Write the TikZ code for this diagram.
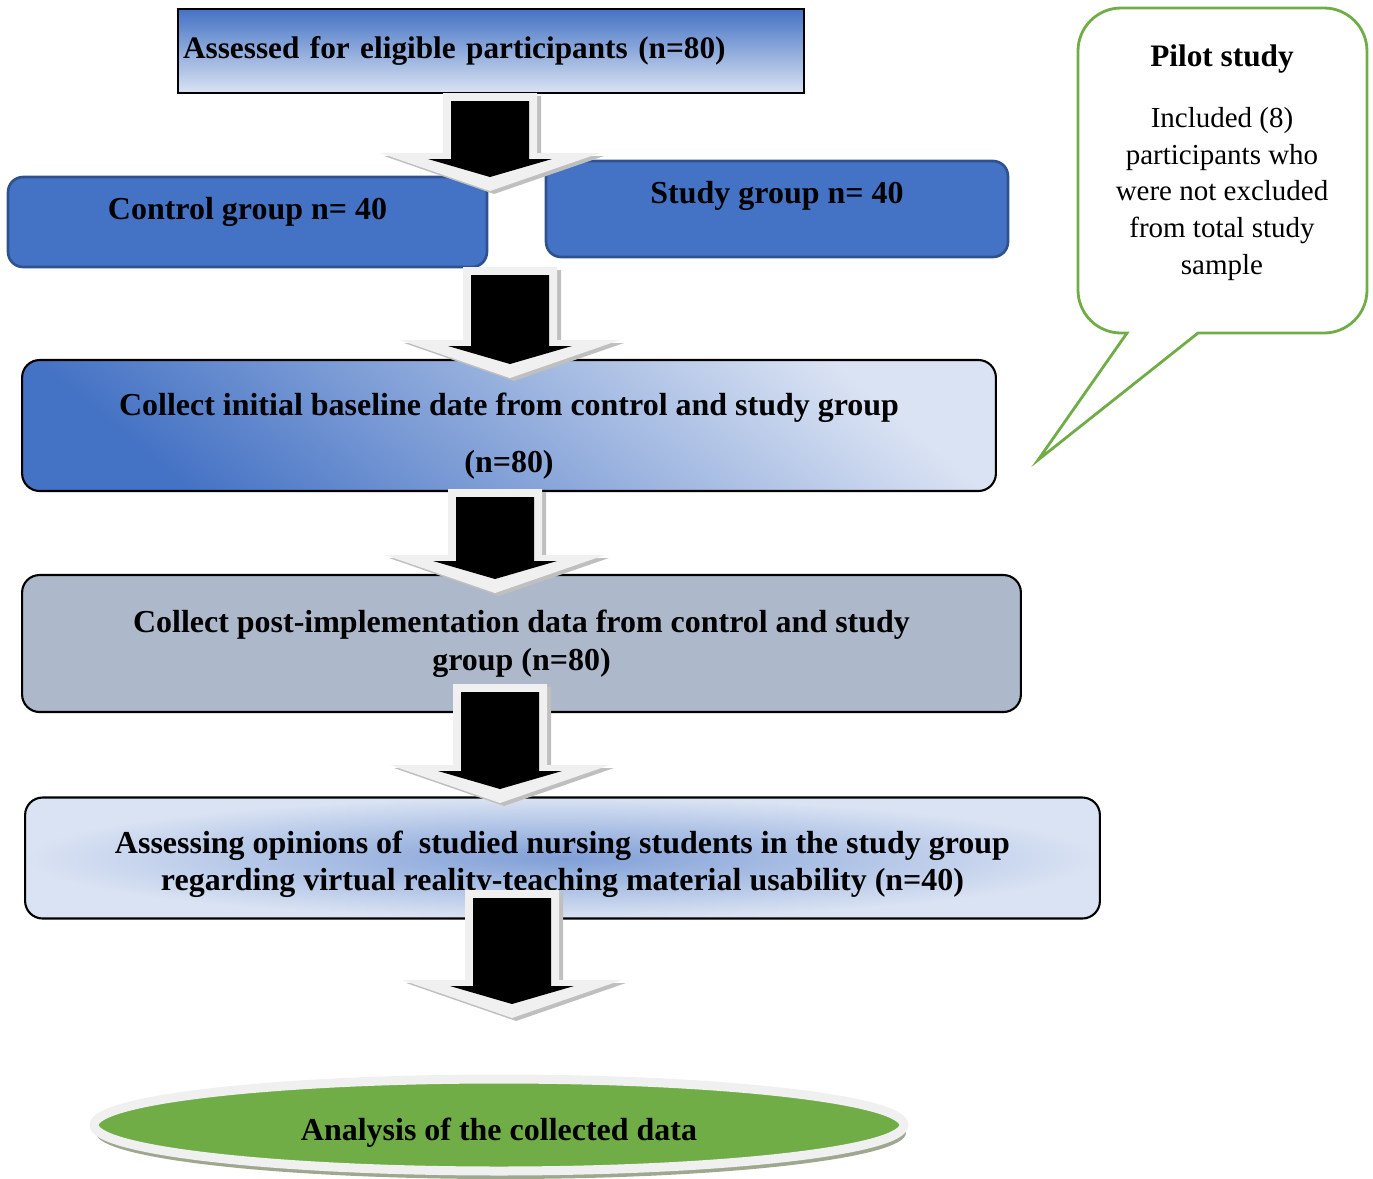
\documentclass[tikz,border=0pt]{standalone}
\usepackage{fontspec}
\setmainfont{Liberation Serif}
\usetikzlibrary{shapes.geometric, shadows}
\definecolor{wordblue}{HTML}{4472C4}
\definecolor{wordedge}{HTML}{2F528F}
\definecolor{paleblue}{HTML}{DAE3F3}
\definecolor{slate}{HTML}{ADB9CA}
\definecolor{leaf}{HTML}{70AD47}
\definecolor{rimgray}{HTML}{F0F0F0}
\definecolor{shadegray}{HTML}{BFBFBF}
\definecolor{mossshade}{HTML}{9DA88F}

\begin{document}
\begin{tikzpicture}[x=0.02cm, y=-0.02cm, font=\fontsize{18.2}{21.5}\selectfont\bfseries]
    \tikzstyle{headbox} = [rectangle, draw, line width=1.2pt,
        top color=wordblue, bottom color=paleblue,
        inner xsep=0.1cm, align=left,
        font=\fontsize{17.8}{21.5}\selectfont\bfseries]
    \tikzstyle{groupbox} = [rectangle, draw=wordedge, line width=1.5pt,
        fill=wordblue, rounded corners=0.3cm, text height=13pt]
    \tikzstyle{stage} = [rectangle, draw, line width=1.2pt,
        rounded corners=0.35cm, align=center]
    \tikzstyle{callout} = [draw=leaf, line width=1.6pt]

    \useasboundingbox (0,0) rectangle (1373,1178);

    \node [headbox, minimum width=12.52cm, minimum height=1.68cm,
        text width=12.32cm] (assess) at (491,51)
        {Assessed for eligible participants (n=80)};

    \node [groupbox, minimum width=9.58cm, minimum height=1.8cm,
        text depth=15.4pt] (control) at (247.5,222) {Control group n= 40};
    \node [groupbox, minimum width=9.24cm, minimum height=1.92cm,
        text depth=18.8pt] (study) at (777,209) {Study group n= 40};

    \node [stage, top color=paleblue, bottom color=wordblue, shading angle=-40,
        minimum width=19.48cm, minimum height=2.62cm] (baseline) at (509,425.5)
        {\rule{0pt}{25pt}Collect initial baseline date from control and study group\\[10.8pt](n=80)};

    \node [stage, fill=slate, minimum width=19.98cm, minimum height=2.74cm]
        (post) at (521.5,643.5)
        {Collect post-implementation data from control and study\\group (n=80)};

    \node [stage, inner color=wordblue!60!paleblue, outer color=paleblue,
        minimum width=21.5cm, minimum height=2.42cm] (opinion) at (562.5,858)
        {\rule{0pt}{20pt}Assessing opinions of~ studied nursing students in the study group\\
         regarding virtual reality-teaching material usability (n=40)};

    \node [ellipse, fill=leaf, draw=rimgray, line width=0.18cm,
        minimum width=16.2cm, minimum height=1.84cm, text height=22pt,
        drop shadow={shadow xshift=0.04cm, shadow yshift=-0.16cm,
            fill=mossshade, opacity=1}] (analysis) at (499,1125)
        {Analysis of the collected data};

    % pilot study callout
    \draw [callout] (1038,460) -- (1198,333) [rounded corners=0.86cm]
        -- (1367,333) -- (1367,8) -- (1078,8) -- (1078,333)
        [sharp corners] -- (1127,333) -- cycle;
    \node [font=\fontsize{17.8}{21.5}\selectfont\bfseries] (pilot) at (1222,59) {Pilot study};
    \node [font=\fontsize{16.5}{21}\selectfont\mdseries, align=center]
        (pilotnote) at (1222,194)
        {Included (8)\\participants who\\were not excluded\\from total study\\sample};

    % block arrows between the stages
    \foreach \cx/\yt/\yw in {490/101/153, 510/275/340, 495/497/555,
                             500/692/765, 512/898/980} {
        \fill [shadegray, shift={(4,3)}] (\cx-47,\yt-8) -- (\cx+47,\yt-8)
            -- (\cx+47,\yw) -- (\cx+110,\yw) -- (\cx,\yw+38)
            -- (\cx-110,\yw) -- (\cx-47,\yw) -- cycle;
        \fill [rimgray] (\cx-47,\yt-8) -- (\cx+47,\yt-8)
            -- (\cx+47,\yw) -- (\cx+110,\yw) -- (\cx,\yw+38)
            -- (\cx-110,\yw) -- (\cx-47,\yw) -- cycle;
        \fill [black] (\cx-39,\yt) -- (\cx+39,\yt)
            -- (\cx+39,\yw+6) -- (\cx+62,\yw+6) -- (\cx,\yw+24)
            -- (\cx-62,\yw+6) -- (\cx-39,\yw+6) -- cycle;
    }
\end{tikzpicture}
\end{document}
